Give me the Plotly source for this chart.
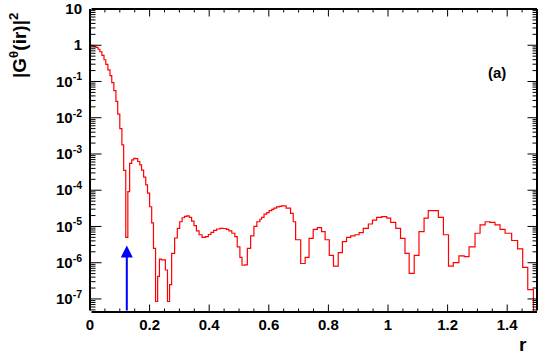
import math
import plotly.graph_objects as go

# ---- data ----
# left edges of the histogram bins (last entry = right edge of last bin)
r_edges = [
    0.000, 0.007, 0.013, 0.020, 0.027, 0.033, 0.040, 0.047, 0.053, 0.060,
    0.067, 0.073, 0.080, 0.087, 0.093, 0.100, 0.107, 0.113, 0.120, 0.127,
    0.133, 0.140, 0.147, 0.153, 0.160, 0.167, 0.173, 0.180, 0.187, 0.193,
    0.200, 0.207, 0.213, 0.220, 0.227, 0.233, 0.240, 0.247, 0.253, 0.260,
    0.267, 0.274, 0.284, 0.293, 0.301, 0.309, 0.317, 0.325, 0.333, 0.341,
    0.349, 0.357, 0.366, 0.376, 0.387, 0.397, 0.406, 0.415, 0.425, 0.436,
    0.447, 0.458, 0.466, 0.476, 0.486, 0.494, 0.503, 0.510, 0.519, 0.528,
    0.539, 0.550, 0.560, 0.570, 0.576, 0.584, 0.593, 0.601, 0.610, 0.617,
    0.626, 0.635, 0.643, 0.650, 0.658, 0.673, 0.682, 0.690, 0.707, 0.722,
    0.735, 0.749, 0.763, 0.777, 0.789, 0.803, 0.817, 0.833, 0.847, 0.861,
    0.875, 0.889, 0.903, 0.917, 0.934, 0.948, 0.962, 0.979, 0.996, 1.009,
    1.026, 1.042, 1.057, 1.071, 1.088, 1.104, 1.121, 1.135, 1.152, 1.169,
    1.186, 1.203, 1.219, 1.238, 1.256, 1.272, 1.292, 1.309, 1.326, 1.342,
    1.359, 1.376, 1.393, 1.415, 1.435, 1.452, 1.469, 1.488, 1.500,
]
g2_values = [
    1.0, 0.977, 0.933, 0.871, 0.776, 0.661, 0.525, 0.398, 0.295, 0.209,
    0.145, 0.0933, 0.0562, 0.0282, 0.0126, 5.0e-3, 1.78e-3, 3.55e-4, 5.0e-6, 9.1e-5,
    5.5e-4, 6.9e-4, 7.6e-4, 7.4e-4, 6.2e-4, 5.0e-4, 3.6e-4, 2.3e-4, 1.4e-4, 8.3e-5,
    3.5e-5, 1.26e-5, 2.5e-6, 8.5e-8, 4.2e-7, 1.25e-6, 1.2e-6, 1.2e-6, 6.3e-7, 8.5e-8,
    2.5e-7, 1.8e-6, 4.8e-6, 8.9e-6, 1.35e-5, 1.74e-5, 1.9e-5, 1.95e-5, 1.78e-5, 1.41e-5,
    1.05e-5, 7.6e-6, 5.9e-6, 5.0e-6, 5.25e-6, 6.0e-6, 6.9e-6, 7.8e-6, 8.5e-6, 8.9e-6,
    8.8e-6, 8.3e-6, 7.6e-6, 6.5e-6, 5.25e-6, 2.75e-6, 1.4e-6, 8.5e-7, 8.7e-7, 2.5e-6,
    5.5e-6, 1.0e-5, 1.35e-5, 1.58e-5, 1.78e-5, 2.2e-5, 2.4e-5, 2.75e-5, 2.95e-5, 3.2e-5,
    3.45e-5, 3.6e-5, 3.7e-5, 3.7e-5, 3.2e-5, 2.3e-5, 1.35e-5, 4.3e-6, 9.5e-7, 1.4e-6,
    4.7e-6, 8.3e-6, 9.3e-6, 7.2e-6, 4.3e-6, 1.6e-6, 8.1e-7, 1.9e-6, 3.8e-6, 5.0e-6,
    5.5e-6, 5.9e-6, 6.8e-6, 8.9e-6, 1.17e-5, 1.5e-5, 1.78e-5, 1.86e-5, 1.7e-5, 1.29e-5,
    8.9e-6, 4.7e-6, 1.8e-6, 5.1e-7, 1.6e-6, 7.2e-6, 1.7e-5, 2.75e-5, 2.75e-5, 1.78e-5,
    5.9e-6, 8.1e-7, 1.0e-6, 1.55e-6, 1.48e-6, 2.75e-6, 6.5e-6, 1.1e-5, 1.35e-5, 1.29e-5,
    1.1e-5, 8.3e-6, 6.5e-6, 4.1e-6, 2.4e-6, 7.4e-7, 1.8e-7, 1.0e-9,
]

arrow_r = 0.1235          # position of the blue marker arrow
arrow_top = 3.0e-6        # value at the arrow tip

x_range = [0.0, 1.5]
y_range_exp = [-7.36, 1.0]  # log10 range of the y axis

x_tick_vals = [0, 0.2, 0.4, 0.6, 0.8, 1.0, 1.2, 1.4]
x_tick_text = ["0", "0.2", "0.4", "0.6", "0.8", "1", "1.2", "1.4"]
y_tick_vals = [1e1, 1e0, 1e-1, 1e-2, 1e-3, 1e-4, 1e-5, 1e-6, 1e-7]
y_tick_text = ["10", "1", "10<sup>-1</sup>", "10<sup>-2</sup>", "10<sup>-3</sup>",
               "10<sup>-4</sup>", "10<sup>-5</sup>", "10<sup>-6</sup>", "10<sup>-7</sup>"]

panel_label = "(a)"
x_title = "r"
y_title = "|G<sup>θ</sup>(ir)|<sup>2</sup>"

# ---- layout geometry (pixels) ----
W, H = 544, 362
ML, MR, MT, MB = 90, 7, 9, 50
PW, PH = W - ML - MR, H - MT - MB

FONT = "Liberation Sans"
INK = "black"
xs = list(r_edges)
ys = list(g2_values) + [g2_values[-1]]

y_lo = 10.0 ** y_range_exp[0]
y_hi = 10.0 ** y_range_exp[1]
x_minor = [round(0.05 * i, 2) for i in range(1, 30) if i % 4 != 0]
y_minor = [m * 10.0 ** e for e in range(-8, 1) for m in range(2, 10)
           if y_lo < m * 10.0 ** e < y_hi]

fig = go.Figure()
fig.add_trace(go.Scatter(
    x=xs, y=ys, mode="lines", line=dict(color="#ff0000", width=1.2, shape="hv"),
    hoverinfo="skip", showlegend=False,
))

tickfont = dict(family=FONT, size=15, color="black", weight="bold")
fig.update_layout(
    xaxis=dict(
        range=x_range, showgrid=False, zeroline=False, automargin=False,
        showline=False, ticks="",
        tickmode="array", tickvals=x_tick_vals, ticktext=x_tick_text,
        tickfont=tickfont, ticklabelstandoff=2,
    ),
    yaxis=dict(
        type="log", range=y_range_exp, showgrid=False, zeroline=False, automargin=False,
        showline=False, ticks="",
        tickmode="array", tickvals=y_tick_vals, ticktext=y_tick_text,
        tickfont=tickfont, ticklabelstandoff=7,
    ),
)

# ---- frame and ticks drawn as head-less annotation arrows ----
def seg(x, y, xref, yref, dx, dy, width):
    fig.add_annotation(
        x=x, y=y, xref=xref, yref=yref, ax=dx, ay=dy, axref="pixel", ayref="pixel",
        text="", showarrow=True, arrowhead=0, arrowwidth=width, arrowcolor=INK,
        standoff=0, startstandoff=0,
    )

# frame
seg(1, 0, "paper", "paper", -PW, 0, 2)
seg(1, 1, "paper", "paper", -PW, 0, 2)
seg(0, 1, "paper", "paper", 0, PH, 2)
seg(1, 1, "paper", "paper", 0, PH, 2)

# x ticks (bottom pointing up, top pointing down)
for v in x_tick_vals:
    if v > x_range[0]:
        seg(v, 0, "x", "paper", 0, -9, 1)
        seg(v, 1, "x", "paper", 0, 9, 1)
for v in x_minor:
    seg(v, 0, "x", "paper", 0, -5, 1)
    seg(v, 1, "x", "paper", 0, 5, 1)
# y ticks (left pointing right, right pointing left); log axis -> log10 positions
for v in y_tick_vals:
    lv = math.log10(v)
    if lv < y_range_exp[1]:
        seg(0, lv, "paper", "y", 13, 0, 1)
        seg(1, lv, "paper", "y", -11, 0, 1)
for v in y_minor:
    lv = math.log10(v)
    seg(0, lv, "paper", "y", 7, 0, 1)
    seg(1, lv, "paper", "y", -6, 0, 1)

fig.add_annotation(
    x=arrow_r, y=math.log10(arrow_top), ax=arrow_r, ay=y_range_exp[0],
    xref="x", yref="y", axref="x", ayref="y", text="",
    showarrow=True, arrowhead=2, arrowsize=1.2, arrowwidth=2, arrowcolor="#0000ff",
)
fig.add_annotation(
    x=1.366, y=-0.74, xref="x", yref="y", text="<b>" + panel_label + "</b>",
    xanchor="center", yanchor="middle",
    showarrow=False, font=dict(family=FONT, size=15, color="black"),
)
fig.add_annotation(
    x=0.969, y=-0.108, xref="paper", yref="paper", text="<b>" + x_title + "</b>",
    xanchor="center", yanchor="middle",
    showarrow=False, font=dict(family=FONT, size=19, color="black"),
)
fig.add_annotation(
    x=-0.161, y=0.878, xref="paper", yref="paper", text="<b>" + y_title + "</b>",
    xanchor="center", yanchor="middle",
    textangle=-90, showarrow=False, font=dict(family=FONT, size=19, color="black"),
)

fig.update_layout(
    width=W, height=H, autosize=False,
    margin=dict(l=ML, r=MR, t=MT, b=MB),
    paper_bgcolor="white", plot_bgcolor="white", showlegend=False,
)

fig.write_html("out.html", config={"displayModeBar": False},
               post_script="document.body.style.margin='0';")
